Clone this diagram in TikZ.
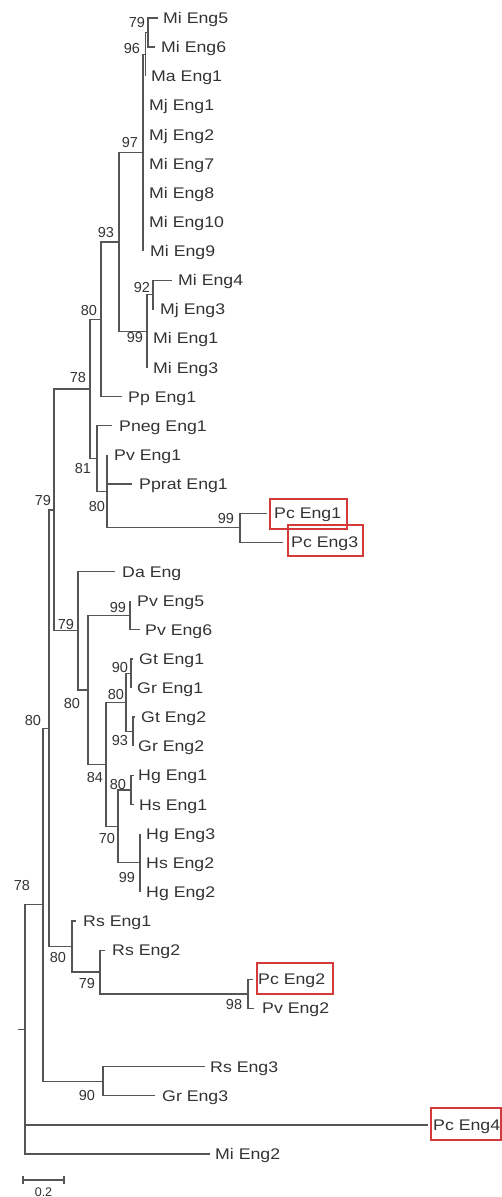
\documentclass[tikz,border=0pt]{standalone}
\usepackage{fontspec}
\setmainfont{Liberation Sans}
\definecolor{linec}{HTML}{555555}
\definecolor{txtc}{HTML}{333333}
\definecolor{boxc}{HTML}{D43A3A}
\newcommand\MkLeaf[5]{\coordinate (t#1) at (#2,#4); \node[tip] (l#1) at (#3,#4) {#5};}
\newcommand\MkBoot[4]{\node[bs] (b#1) at (#2,#3) {#4};}
\begin{document}
\begin{tikzpicture}[x=1pt,y=-1pt,
  br/.style={draw=linec, line width=1.3pt},
  tip/.style={anchor=base west, inner sep=0pt, text=txtc, yshift=-5.5pt, xscale=1.15,
    font=\fontsize{15.4}{16}\selectfont},
  bs/.style={inner sep=0pt, text=txtc, font=\fontsize{14.5}{15}\selectfont},
  hl/.style={draw=boxc, line width=1.2pt}]
\useasboundingbox (0,0) rectangle (502,1197);

% internal nodes
\coordinate (root) at (25,1029.5);
\coordinate (rstub) at (18,1029.5);
\coordinate (n78b) at (43,904.8);
\coordinate (n80g) at (49,728.2);
\coordinate (n79c) at (54,509.9);
\coordinate (n78a) at (90,389);
\coordinate (n80a) at (101,319.4);
\coordinate (n93a) at (119,242);
\coordinate (n97) at (143,152.7);
\coordinate (n96) at (145.5,54.4);
\coordinate (n79a) at (148,32.6);
\coordinate (n99a) at (147,331.2);
\coordinate (n92) at (153,294.8);
\coordinate (n81) at (97,458.6);
\coordinate (n80b) at (107,491.3);
\coordinate (n99b) at (240,527.8);
\coordinate (n79b) at (78,630.7);
\coordinate (n80e) at (88,689.9);
\coordinate (n99c) at (130,615.2);
\coordinate (n84) at (106,764.5);
\coordinate (n80c) at (126,702.6);
\coordinate (n90a) at (131,673.5);
\coordinate (n93b) at (133,731.7);
\coordinate (n70) at (118,826.4);
\coordinate (n80d) at (131,790);
\coordinate (n99d) at (140,862.8);
\coordinate (n80f) at (72,946.5);
\coordinate (n79d) at (100,972);
\coordinate (n98) at (248,993.9);
\coordinate (n90b) at (103,1081.3);

% leaves
\MkLeaf{Mi5}{158}{163}{18}{Mi Eng5}
\MkLeaf{Mi6}{155}{161}{47.1}{Mi Eng6}
\MkLeaf{Ma1}{145.5}{151}{76.3}{Ma Eng1}
\MkLeaf{Mj1}{143}{149}{105.4}{Mj Eng1}
\MkLeaf{Mj2}{143}{149}{134.5}{Mj Eng2}
\MkLeaf{Mi7}{143}{149}{163.7}{Mi Eng7}
\MkLeaf{Mi8}{143}{149}{192.8}{Mi Eng8}
\MkLeaf{Mi10}{143}{149}{221.9}{Mi Eng10}
\MkLeaf{Mi9}{143}{150}{251}{Mi Eng9}
\MkLeaf{Mi4}{172}{178}{280.2}{Mi Eng4}
\MkLeaf{Mj3}{154}{160}{309.3}{Mj Eng3}
\MkLeaf{Mi1}{147}{153}{338.4}{Mi Eng1}
\MkLeaf{Mi3}{147}{153}{367.6}{Mi Eng3}
\MkLeaf{Pp1}{122}{128}{396.7}{Pp Eng1}
\MkLeaf{Pneg}{112}{119}{425.8}{Pneg Eng1}
\MkLeaf{Pv1}{107}{114}{454.9}{Pv Eng1}
\MkLeaf{Pprat}{132}{139}{484.1}{Pprat Eng1}
\MkLeaf{Pc1}{267}{274}{513.2}{Pc Eng1}
\MkLeaf{Pc3}{283}{291}{542.3}{Pc Eng3}
\MkLeaf{Da}{115}{122}{571.5}{Da Eng}
\MkLeaf{Pv5}{130}{137}{600.6}{Pv Eng5}
\MkLeaf{Pv6}{140}{145}{629.7}{Pv Eng6}
\MkLeaf{Gt1}{133}{139}{658.9}{Gt Eng1}
\MkLeaf{Gr1}{131}{137}{688}{Gr Eng1}
\MkLeaf{Gt2}{135}{141}{717.1}{Gt Eng2}
\MkLeaf{Gr2}{133}{138}{746.2}{Gr Eng2}
\MkLeaf{Hg1}{134}{138}{775.4}{Hg Eng1}
\MkLeaf{Hs1}{134}{139}{804.5}{Hs Eng1}
\MkLeaf{Hg3}{140}{146}{833.6}{Hg Eng3}
\MkLeaf{Hs2}{140}{146}{862.8}{Hs Eng2}
\MkLeaf{Hg2}{140}{146}{891.9}{Hg Eng2}
\MkLeaf{Rs1}{76}{83}{921}{Rs Eng1}
\MkLeaf{Rs2}{105}{112}{950.2}{Rs Eng2}
\MkLeaf{Pc2}{253}{258}{979.3}{Pc Eng2}
\MkLeaf{Pv2}{254}{262}{1008.4}{Pv Eng2}
\MkLeaf{Rs3}{205}{210}{1066.7}{Rs Eng3}
\MkLeaf{Gr3}{155}{162}{1095.8}{Gr Eng3}
\MkLeaf{Pc4}{428}{433}{1125}{Pc Eng4}
\MkLeaf{Mi2}{210}{215}{1154.1}{Mi Eng2}

% branches
\draw[br] (rstub) -- (root);
\draw[br] (root) |- (n78b);  \draw[br] (root) |- (tPc4);  \draw[br] (root) |- (tMi2);
\draw[br] (n78b) |- (n80g);  \draw[br] (n78b) |- (n90b);
\draw[br] (n90b) |- (tRs3);  \draw[br] (n90b) |- (tGr3);
\draw[br] (n80g) |- (n79c);  \draw[br] (n80g) |- (n80f);
\draw[br] (n80f) |- (tRs1);  \draw[br] (n80f) |- (n79d);
\draw[br] (n79d) |- (tRs2);  \draw[br] (n79d) |- (n98);
\draw[br] (n98) |- (tPc2);   \draw[br] (n98) |- (tPv2);
\draw[br] (n79c) |- (n78a);  \draw[br] (n79c) |- (n79b);
\draw[br] (n78a) |- (n80a);  \draw[br] (n78a) |- (n81);
\draw[br] (n80a) |- (n93a);  \draw[br] (n80a) |- (tPp1);
\draw[br] (n93a) |- (n97);   \draw[br] (n93a) |- (n99a);
\draw[br] (n97) |- (n96);
\foreach \t in {Mj1,Mj2,Mi7,Mi8,Mi10,Mi9} {\draw[br] (n97) |- (t\t);}
\draw[br] (n96) |- (n79a);   \draw[br] (n96) |- (tMa1);
\draw[br] (n79a) |- (tMi5);  \draw[br] (n79a) |- (tMi6);
\draw[br] (n99a) |- (n92);   \draw[br] (n99a) |- (tMi1);  \draw[br] (n99a) |- (tMi3);
\draw[br] (n92) |- (tMi4);   \draw[br] (n92) |- (tMj3);
\draw[br] (n81) |- (tPneg);  \draw[br] (n81) |- (n80b);
\draw[br] (n80b) |- (tPv1);  \draw[br] (n80b) |- (tPprat); \draw[br] (n80b) |- (n99b);
\draw[br] (n99b) |- (tPc1);  \draw[br] (n99b) |- (tPc3);
\draw[br] (n79b) |- (tDa);   \draw[br] (n79b) |- (n80e);
\draw[br] (n80e) |- (n99c);  \draw[br] (n80e) |- (n84);
\draw[br] (n99c) |- (tPv5);  \draw[br] (n99c) |- (tPv6);
\draw[br] (n84) |- (n80c);   \draw[br] (n84) |- (n70);
\draw[br] (n80c) |- (n90a);  \draw[br] (n80c) |- (n93b);
\draw[br] (n90a) |- (tGt1);  \draw[br] (n90a) |- (tGr1);
\draw[br] (n93b) |- (tGt2);  \draw[br] (n93b) |- (tGr2);
\draw[br] (n70) |- (n80d);   \draw[br] (n70) |- (n99d);
\draw[br] (n80d) |- (tHg1);  \draw[br] (n80d) |- (tHs1);
\draw[br] (n99d) |- (tHg3);  \draw[br] (n99d) |- (tHs2);  \draw[br] (n99d) |- (tHg2);

% bootstrap values
\MkBoot{79a}{137}{23}{79}
\MkBoot{96}{132}{49}{96}
\MkBoot{97}{130}{143}{97}
\MkBoot{93a}{106}{233}{93}
\MkBoot{92}{142}{288}{92}
\MkBoot{99a}{135}{338}{99}
\MkBoot{80a}{89}{311}{80}
\MkBoot{78a}{78}{378}{78}
\MkBoot{81}{83}{469}{81}
\MkBoot{80b}{97}{507}{80}
\MkBoot{99b}{226}{519}{99}
\MkBoot{79c}{43}{501}{79}
\MkBoot{79b}{66}{624}{79}
\MkBoot{80e}{72}{703}{80}
\MkBoot{99c}{118}{607}{99}
\MkBoot{90a}{120}{667}{90}
\MkBoot{80c}{116}{694}{80}
\MkBoot{93b}{120}{740}{93}
\MkBoot{84}{95}{777}{84}
\MkBoot{80d}{118}{784}{80}
\MkBoot{70}{107}{838}{70}
\MkBoot{99d}{127}{877}{99}
\MkBoot{80g}{33}{720}{80}
\MkBoot{78b}{22}{885}{78}
\MkBoot{80f}{58}{957}{80}
\MkBoot{79d}{87}{983}{79}
\MkBoot{98}{234}{1004}{98}
\MkBoot{90b}{87}{1095}{90}

% highlight boxes
\draw[hl] (270,499) rectangle (347,529);
\draw[hl] (288,525) rectangle (363,556);
\draw[hl] (257,963) rectangle (333,994);
\draw[hl] (431,1108) rectangle (501,1140);

% scale bar
\coordinate (sb1) at (23,1180);
\coordinate (sb2) at (64,1180);
\draw[br, line width=1.1pt] (sb1) -- (sb2);
\draw[br, line width=1.1pt] ([yshift=4pt]sb1) -- ([yshift=-4pt]sb1);
\draw[br, line width=1.1pt] ([yshift=4pt]sb2) -- ([yshift=-4pt]sb2);
\node[bs, font=\fontsize{12.5}{13}\selectfont] (sblabel) at (43.5,1192) {0.2};
\end{tikzpicture}
\end{document}
